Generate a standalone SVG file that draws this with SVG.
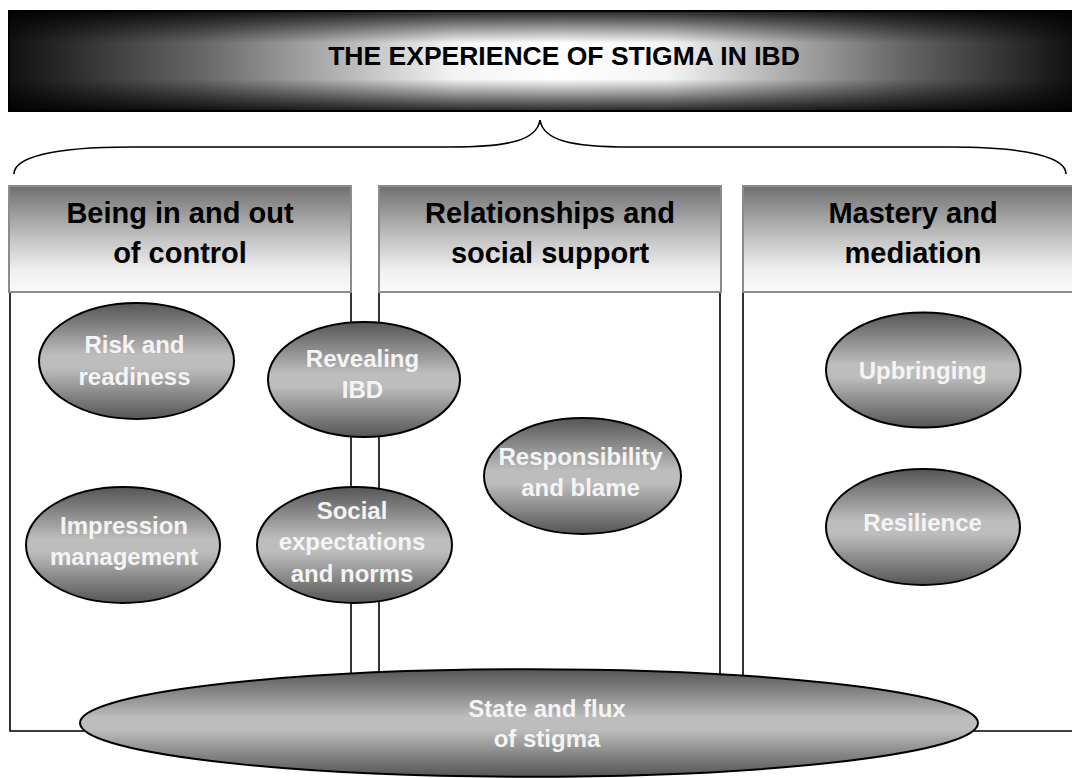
<svg xmlns="http://www.w3.org/2000/svg" width="1072" height="778" viewBox="0 0 1072 778">
<style>
.hdr{font-family:"Liberation Sans",Arial,sans-serif;font-weight:bold;font-size:29px;fill:#000;text-anchor:middle}
.ttl{font-family:"Liberation Sans",Arial,sans-serif;font-weight:bold;font-size:26.5px;fill:#000;text-anchor:middle}
.nt{font-family:"Liberation Sans",Arial,sans-serif;font-weight:bold;font-size:24px;fill:#f4f4f4;text-anchor:middle}
.ell{fill:url(#ellG);stroke:#000;stroke-width:2}
.box{fill:url(#hdrG);stroke:#8c8c8c;stroke-width:2}
.ln{fill:none;stroke:#000;stroke-width:1.6}
</style>
<defs>
<linearGradient id="ttlH" gradientUnits="userSpaceOnUse" x1="9" y1="0" x2="1072" y2="0">
<stop offset="0" stop-color="#111"/>
<stop offset="0.18" stop-color="#666"/>
<stop offset="0.42" stop-color="#f4f4f4"/>
<stop offset="0.52" stop-color="#fff"/>
<stop offset="0.62" stop-color="#f4f4f4"/>
<stop offset="0.84" stop-color="#666"/>
<stop offset="1" stop-color="#111"/>
</linearGradient>
<linearGradient id="ttlV" x1="0" y1="0" x2="0" y2="1">
<stop offset="0" stop-color="#000" stop-opacity="0.85"/>
<stop offset="0.15" stop-color="#000" stop-opacity="0.45"/>
<stop offset="0.32" stop-color="#000" stop-opacity="0"/>
<stop offset="0.68" stop-color="#000" stop-opacity="0"/>
<stop offset="0.85" stop-color="#000" stop-opacity="0.45"/>
<stop offset="1" stop-color="#000" stop-opacity="0.85"/>
</linearGradient>
<linearGradient id="hdrG" x1="0" y1="0" x2="0" y2="1">
<stop offset="0" stop-color="#707070"/>
<stop offset="0.5" stop-color="#c4c4c4"/>
<stop offset="0.8" stop-color="#f0f0f0"/>
<stop offset="1" stop-color="#fafafa"/>
</linearGradient>
<linearGradient id="ellG" x1="0" y1="0" x2="0" y2="1">
<stop offset="0" stop-color="#555"/>
<stop offset="0.45" stop-color="#bdbdbd"/>
<stop offset="0.56" stop-color="#bdbdbd"/>
<stop offset="1" stop-color="#555"/>
</linearGradient>
</defs>
<rect width="1072" height="778" fill="#fff"/>

<g id="title">
<rect x="9" y="11" width="1070" height="100" fill="url(#ttlH)"/>
<rect x="9" y="11" width="1070" height="100" fill="url(#ttlV)" stroke="#000" stroke-width="2"/>
<text class="ttl" x="564" y="65">THE EXPERIENCE OF STIGMA IN IBD</text>
</g>

<g id="connectors">
<path class="ln" stroke-width="2" d="M14,174 C14,158 50,147 130,147 L450,147 C510,147 537,140 540,120 C543,140 570,147 630,147 L950,147 C1030,147 1066,158 1066,174"/>
</g>

<g id="panels">
<path class="ln" d="M10,292 V731 H529"/>
<path class="ln" d="M351,292 V731"/>
<path class="ln" d="M379,292 V731"/>
<path class="ln" d="M720,292 V731"/>
<path class="ln" d="M743,292 V731"/>
<path class="ln" d="M529,731 H1072"/>
</g>

<g id="theme1">
<rect class="box" x="9" y="186" width="342" height="106"/>
<text class="hdr" x="180" y="223">Being in and out</text>
<text class="hdr" x="180" y="263">of control</text>
</g>
<g id="theme2">
<rect class="box" x="379" y="186" width="342" height="106"/>
<text class="hdr" x="550" y="223">Relationships and</text>
<text class="hdr" x="550" y="263">social support</text>
</g>
<g id="theme3">
<rect class="box" x="743" y="186" width="342" height="106"/>
<text class="hdr" x="913" y="223">Mastery and</text>
<text class="hdr" x="913" y="263">mediation</text>
</g>

<g id="risk">
<ellipse class="ell" cx="136.5" cy="361" rx="97.5" ry="58"/>
<text class="nt" x="134.5" y="353">Risk and</text>
<text class="nt" x="134.5" y="385">readiness</text>
</g>
<g id="revealing">
<ellipse class="ell" cx="364" cy="379.5" rx="96" ry="57.5"/>
<text class="nt" x="362.5" y="367">Revealing</text>
<text class="nt" x="362.5" y="398">IBD</text>
</g>
<g id="impression">
<ellipse class="ell" cx="123" cy="545" rx="97" ry="58"/>
<text class="nt" x="124" y="534">Impression</text>
<text class="nt" x="124" y="565">management</text>
</g>
<g id="social">
<ellipse class="ell" cx="354.5" cy="545" rx="97.5" ry="58"/>
<text class="nt" x="352" y="519">Social</text>
<text class="nt" x="352" y="550">expectations</text>
<text class="nt" x="352" y="582">and norms</text>
</g>
<g id="responsibility">
<ellipse class="ell" cx="582.5" cy="476" rx="98.5" ry="58"/>
<text class="nt" x="580.5" y="465">Responsibility</text>
<text class="nt" x="580.5" y="496">and blame</text>
</g>
<g id="upbringing">
<ellipse class="ell" cx="923.3" cy="370" rx="97.3" ry="57.5"/>
<text class="nt" x="922.7" y="379">Upbringing</text>
</g>
<g id="resilience">
<ellipse class="ell" cx="923" cy="527" rx="97" ry="58"/>
<text class="nt" x="922.5" y="531">Resilience</text>
</g>
<g id="state">
<ellipse class="ell" cx="529" cy="723" rx="449" ry="53.7"/>
<text class="nt" x="547" y="717">State and flux</text>
<text class="nt" x="547" y="747">of stigma</text>
</g>
</svg>
